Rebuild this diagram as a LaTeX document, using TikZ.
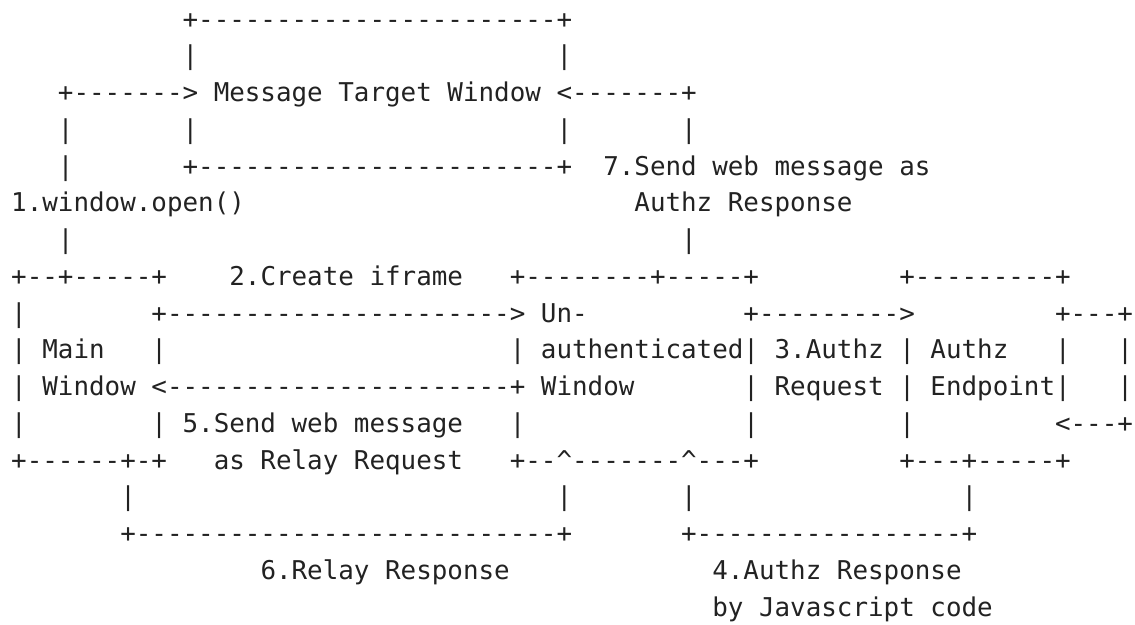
\documentclass[tikz,border=0pt]{standalone}
\usepackage{fontspec}
\setmonofont{DejaVu Sans Mono}
\definecolor{ink}{RGB}{34,34,34}
\begin{document}
% one unit in x = one character cell, one unit in y = one text row (downwards)
\begin{tikzpicture}[x=7.79pt, y=-18.375pt,
  t/.style={anchor=base west, inner sep=0pt, outer sep=0pt, text=ink,
            font=\ttfamily\fontsize{12.94pt}{18pt}\selectfont}]
\useasboundingbox (-0.72,0.238) rectangle (72.13,17.218);

% row 1-5: message target window and the two links into it
\node[t] (mtTop)    at (11,1)  {+-----------------------+};
\node[t] (mtL2)     at (11,2)  {|};
\node[t] (mtR2)     at (35,2)  {|};
\node[t] (openArr)  at (3,3)   {+------->};
\node[t] (mtw)      at (13,3)  {Message Target Window};
\node[t] (sendArr)  at (35,3)  {<-------+};
\node[t] (openV4)   at (3,4)   {|};
\node[t] (mtL4)     at (11,4)  {|};
\node[t] (mtR4)     at (35,4)  {|};
\node[t] (sendV4)   at (43,4)  {|};
\node[t] (openV5)   at (3,5)   {|};
\node[t] (mtBot)    at (11,5)  {+-----------------------+};
\node[t] (lab7a)    at (38,5)  {7.Send web message as};
\node[t] (lab1)     at (0,6)   {1.window.open()};
\node[t] (lab7b)    at (40,6)  {Authz Response};
\node[t] (openV7)   at (3,7)   {|};
\node[t] (sendV7)   at (43,7)  {|};

% row 8: tops of the three boxes
\node[t] (mainTop)  at (0,8)   {+--+-----+};
\node[t] (lab2)     at (14,8)  {2.Create iframe};
\node[t] (unTop)    at (32,8)  {+--------+-----+};
\node[t] (epTop)    at (57,8)  {+---------+};

% row 9
\node[t] (mainL9)   at (0,9)   {|};
\node[t] (ifrArr)   at (9,9)   {+---------------------->};
\node[t] (un1)      at (34,9)  {Un-};
\node[t] (reqArr)   at (47,9)  {+--------->};
\node[t] (loopTop)  at (67,9)  {+---+};

% row 10
\node[t] (mainL10)  at (0,10)  {|};
\node[t] (main1)    at (2,10)  {Main};
\node[t] (mainR10)  at (9,10)  {|};
\node[t] (unL10)    at (32,10) {|};
\node[t] (un2)      at (34,10) {authenticated};
\node[t] (unR10)    at (47,10) {|};
\node[t] (lab3a)    at (49,10) {3.Authz};
\node[t] (epL10)    at (57,10) {|};
\node[t] (ep1)      at (59,10) {Authz};
\node[t] (epR10)    at (67,10) {|};
\node[t] (loopV10)  at (71,10) {|};

% row 11
\node[t] (mainL11)  at (0,11)  {|};
\node[t] (main2)    at (2,11)  {Window};
\node[t] (relArr)   at (9,11)  {<----------------------+};
\node[t] (un3)      at (34,11) {Window};
\node[t] (unR11)    at (47,11) {|};
\node[t] (lab3b)    at (49,11) {Request};
\node[t] (epL11)    at (57,11) {|};
\node[t] (ep2)      at (59,11) {Endpoint};
\node[t] (epR11)    at (67,11) {|};
\node[t] (loopV11)  at (71,11) {|};

% row 12
\node[t] (mainL12)  at (0,12)  {|};
\node[t] (mainR12)  at (9,12)  {|};
\node[t] (lab5a)    at (11,12) {5.Send web message};
\node[t] (unL12)    at (32,12) {|};
\node[t] (unR12)    at (47,12) {|};
\node[t] (epL12)    at (57,12) {|};
\node[t] (loopArr)  at (67,12) {<---+};

% row 13: bottoms of the boxes
\node[t] (mainBot)  at (0,13)  {+------+-+};
\node[t] (lab5b)    at (13,13) {as Relay Request};
\node[t] (unBot)    at (32,13) {+--\textasciicircum-------\textasciicircum---+};
\node[t] (epBot)    at (57,13) {+---+-----+};

% rows 14-17: return paths and their labels
\node[t] (rrV1)     at (7,14)  {|};
\node[t] (rrV2)     at (35,14) {|};
\node[t] (azV1)     at (43,14) {|};
\node[t] (azV2)     at (61,14) {|};
\node[t] (rrLine)   at (7,15)  {+---------------------------+};
\node[t] (azLine)   at (43,15) {+-----------------+};
\node[t] (lab6)     at (16,16) {6.Relay Response};
\node[t] (lab4a)    at (45,16) {4.Authz Response};
\node[t] (lab4b)    at (45,17) {by Javascript code};
\end{tikzpicture}
\end{document}
